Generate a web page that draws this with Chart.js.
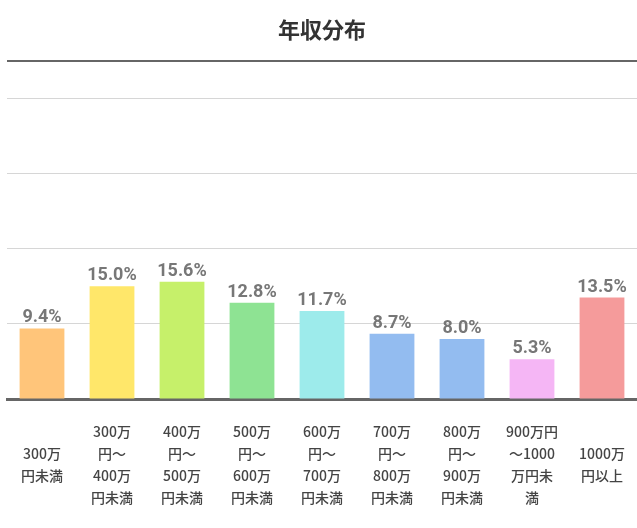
<!DOCTYPE html>
<html>
<head>
    <title>年収分布</title>
    <style>
        body { margin: 0; background: #fff; }
        #wrap { width: 637px; height: 528px; }
    </style>
</head>
<body>
    <div id="wrap"><canvas id="incomeChart"></canvas></div>

    <script src="https://cdn.jsdelivr.net/npm/chart.js"></script>
    <script>
        const categories = [
            ['300万', '円未満'],
            ['300万', '円～', '400万', '円未満'],
            ['400万', '円～', '500万', '円未満'],
            ['500万', '円～', '600万', '円未満'],
            ['600万', '円～', '700万', '円未満'],
            ['700万', '円～', '800万', '円未満'],
            ['800万', '円～', '900万', '円未満'],
            ['900万円', '～1000', '万円未', '満'],
            ['1000万', '円以上']
        ];
        const shares = [9.4, 15.0, 15.6, 12.8, 11.7, 8.7, 8.0, 5.3, 13.5];
        const barColors = ['#ffc57a', '#ffe76a', '#c6f06a', '#8ee393', '#9debeb', '#93bcf0', '#93bcf0', '#f5b6f5', '#f59b9b'];

        // value labels above bars
        const valueLabels = {
            id: 'valueLabels',
            afterDatasetsDraw(chart) {
                const ctx = chart.ctx;
                const meta = chart.getDatasetMeta(0);
                ctx.save();
                ctx.font = 'bold 18px Roboto, "Noto Sans CJK JP", sans-serif';
                ctx.fillStyle = '#777';
                ctx.textAlign = 'center';
                ctx.textBaseline = 'alphabetic';
                meta.data.forEach((bar, i) => {
                    ctx.fillText(shares[i].toFixed(1) + '%', bar.x, bar.y - 6);
                });
                ctx.restore();
            }
        };

        new Chart(document.getElementById('incomeChart'), {
            type: 'bar',
            data: {
                labels: categories,
                datasets: [{
                    data: shares,
                    backgroundColor: barColors,
                    barPercentage: 0.64,
                    categoryPercentage: 1
                }]
            },
            options: {
                responsive: true,
                maintainAspectRatio: false,
                animation: false,
                layout: { padding: { left: 7, right: 0, top: 0, bottom: 0 } },
                plugins: {
                    legend: { display: false },
                    tooltip: { enabled: false },
                    title: {
                        display: true,
                        text: '年収分布',
                        color: '#333',
                        font: { family: '"Noto Sans CJK JP", sans-serif', size: 22, weight: 'bold' },
                        padding: { top: 16, bottom: 18.6 }
                    }
                },
                scales: {
                    x: {
                        grid: { display: false, drawTicks: false },
                        border: { color: '#666', width: 3 },
                        ticks: {
                            color: '#444',
                            font: { family: '"Noto Sans CJK JP", sans-serif', size: 14, weight: '500', lineHeight: 1.57 },
                            padding: 33,
                            maxRotation: 0,
                            autoSkip: false,
                            crossAlign: 'center'
                        },
                        afterFit(scale) {
                            scale.paddingLeft = 0;
                            scale.paddingRight = 0;
                            scale.height = 129;
                        }
                    },
                    y: {
                        min: 0,
                        max: 45,
                        border: { display: false },
                        ticks: { display: false, stepSize: 5 },
                        grid: {
                            drawTicks: false,
                            color: c => {
                                const v = c.tick.value;
                                if (v === 45) return '#666';
                                if (v === 0) return 'rgba(0,0,0,0)';
                                return v % 10 === 0 ? '#d6d6d6' : 'rgba(0,0,0,0)';
                            },
                            lineWidth: c => c.tick.value === 45 ? 2 : 1
                        }
                    }
                }
            },
            plugins: [valueLabels]
        });
    </script>
</body>
</html>
